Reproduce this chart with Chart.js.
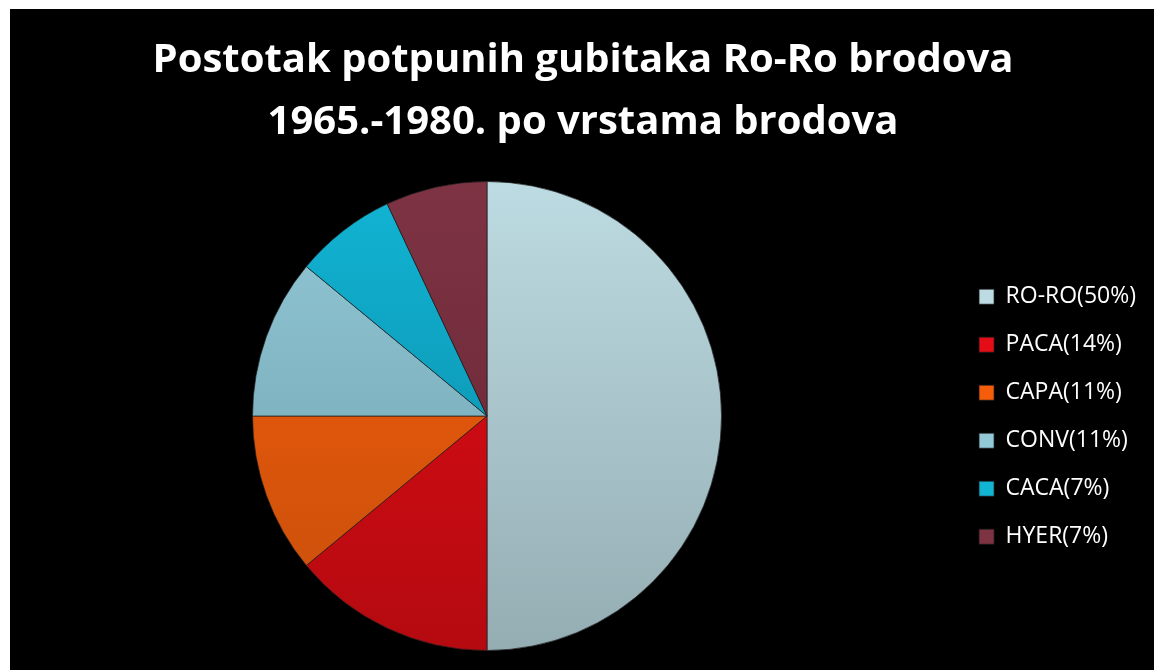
<!DOCTYPE html>
<html>
<head>
<meta charset="utf-8">
<script src="https://cdn.jsdelivr.net/npm/chart.js@4.4.1/dist/chart.umd.min.js"></script>
<style>
  html, body { margin: 0; padding: 0; background: #ffffff; }
  #wrap { position: absolute; left: 10px; top: 9px; width: 1144px; height: 661px; background: #000000; }
</style>
</head>
<body>
<div id="wrap"><canvas id="pieChart"></canvas></div>
<script>
// ---- data ----
const labels = ["RO-RO(50%)", "PACA(14%)", "CAPA(11%)", "CONV(11%)", "CACA(7%)", "HYER(7%)"];
const shares = [50, 14, 11, 11, 7, 7];
const titleLines = ["Postotak potpunih gubitaka Ro-Ro brodova", "1965.-1980. po vrstama brodova"];

// top / bottom shades of each slice
const topColors = ["#bddbe2", "#e40c16", "#f55d0a", "#93c8d6", "#12b4d4", "#7e3343"];
const bottomColors = ["#94adb3", "#b40a10", "#c74f0c", "#6c9fac", "#0a86a2", "#652633"];

const FONT = "'Open Sans', sans-serif";

function sliceFill(ctx) {
  const chart = ctx.chart;
  const area = chart.chartArea;
  const i = ctx.dataIndex;
  if (!area || i === undefined) return topColors[i || 0];
  const g = chart.ctx.createLinearGradient(0, area.top, 0, area.bottom);
  g.addColorStop(0, topColors[i]);
  g.addColorStop(1, bottomColors[i]);
  return g;
}

const baseLabels = Chart.overrides.pie.plugins.legend.labels.generateLabels;

new Chart(document.getElementById("pieChart"), {
  type: "pie",
  data: {
    labels: labels,
    datasets: [
      {
        data: shares,
        backgroundColor: sliceFill,
        borderColor: "rgba(30,30,30,0.7)",
        borderWidth: 1,
      },
    ],
  },
  options: {
    responsive: true,
    maintainAspectRatio: false,
    animation: false,
    layout: { padding: { left: 10, right: 8, top: 0, bottom: 19 } },
    plugins: {
      title: {
        display: true,
        text: titleLines,
        color: "#ffffff",
        font: { family: FONT, size: 40, weight: "bold", lineHeight: 1.55 },
        padding: { top: 21, bottom: 27 },
      },
      legend: {
        position: "right",
        // empty title used as a spacer so the entries sit mid-height
        title: { display: true, text: " ", font: { size: 12, lineHeight: 1.2 }, padding: { top: 159, bottom: 0 } },
        labels: {
          color: "#ffffff",
          font: { family: FONT, size: 23 },
          boxWidth: 15,
          boxHeight: 15,
          padding: 25,
          generateLabels: (chart) =>
            baseLabels(chart).map((item, i) => ({
              ...item,
              fillStyle: topColors[i],
              strokeStyle: "rgba(30,30,30,0.7)",
              lineWidth: 1,
            })),
        },
      },
      tooltip: { enabled: false },
    },
  },
});
</script>
</body>
</html>
